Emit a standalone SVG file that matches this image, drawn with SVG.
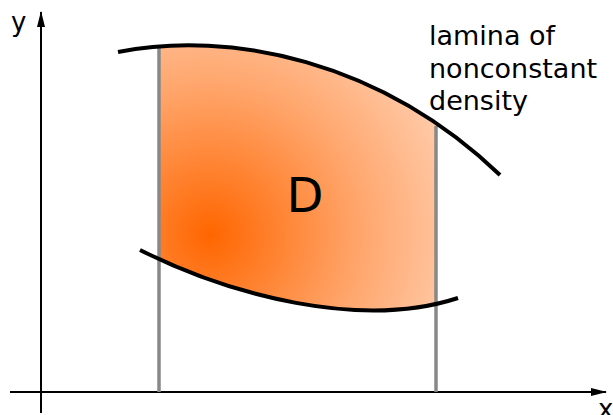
<svg xmlns="http://www.w3.org/2000/svg" width="613" height="415" viewBox="0 0 613 415">
<style>
.axis{stroke:#000;stroke-width:2;fill:none}
.bound{stroke:#000;stroke-width:4;fill:none;stroke-linecap:butt}
.vline{stroke:#888;stroke-width:3.5}
.lbl{font-family:"DejaVu Sans",sans-serif;fill:#000}
</style>
<defs>
<marker id="arr" markerWidth="16" markerHeight="10" refX="15" refY="5" orient="auto" markerUnits="userSpaceOnUse">
<path d="M0,1 L16,5 L0,9 Z" fill="#000"/>
</marker>
<radialGradient id="g" gradientUnits="userSpaceOnUse" cx="210" cy="235" r="330">
<stop offset="0" stop-color="#ff6600"/>
<stop offset="0.45" stop-color="#ffa56b"/>
<stop offset="1" stop-color="#ffe6d6"/>
</radialGradient>
<clipPath id="c"><rect x="159" y="0" width="277" height="415"/></clipPath>
</defs>
<g id="region">
<path clip-path="url(#c)" fill="url(#g)" d="M118,52 C230,30 380,60 500,175 L458,298 C360,330 230,295 140,250 Z"/>
</g>
<g id="connectors">
<line class="axis" x1="41" y1="413" x2="41" y2="12" marker-end="url(#arr)"/>
<line class="axis" x1="10" y1="392" x2="606" y2="392" marker-end="url(#arr)"/>
<line class="vline" x1="159" y1="48" x2="159" y2="392"/>
<line class="vline" x1="436" y1="126" x2="436" y2="392"/>
<path class="bound" d="M118,52 C230,30 380,60 500,175"/>
<path class="bound" d="M140,250 C230,295 360,330 458,298"/>
</g>
<g id="labels">
<text class="lbl" x="11" y="31" font-size="26">y</text>
<text class="lbl" x="598" y="418" font-size="26">x</text>
<text class="lbl" x="305" y="212" font-size="48" text-anchor="middle">D</text>
<text class="lbl" x="429" y="45" font-size="27">lamina of</text>
<text class="lbl" x="429" y="78" font-size="27">nonconstant</text>
<text class="lbl" x="429" y="110" font-size="27">density</text>
</g>
</svg>
